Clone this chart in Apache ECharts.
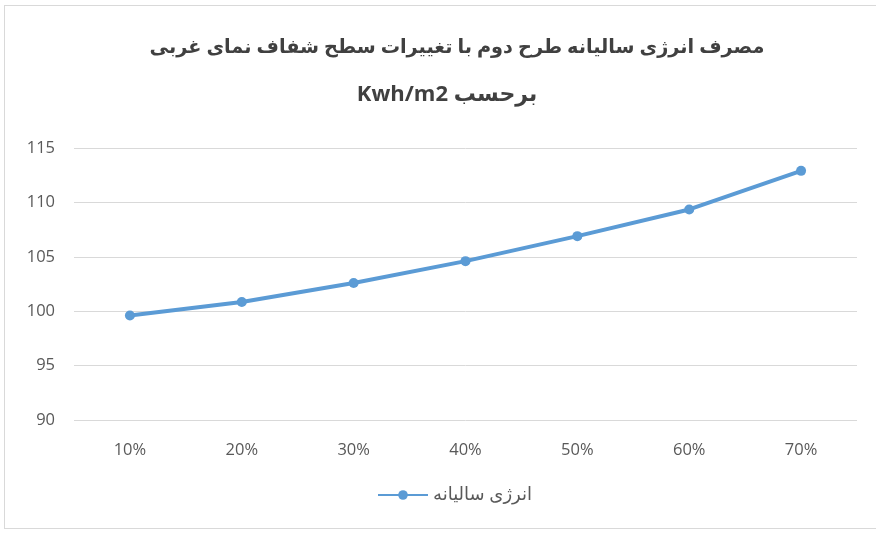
<!DOCTYPE html>
<html>
<head>
<meta charset="utf-8">
<script src="https://cdn.jsdelivr.net/npm/echarts@6/dist/echarts.min.js"></script>
<style>
html,body{margin:0;padding:0;background:#fff;overflow:hidden;}
#frame{position:absolute;left:4px;top:5px;width:880px;height:524px;border:1px solid #d9d9d9;box-sizing:border-box;}
#chart{position:absolute;left:0;top:0;width:876px;height:533px;}
</style>
</head>
<body>
<div id="frame"></div>
<div id="chart"></div>
<script>
const titleLine1 = 'مصرف انرژی سالیانه طرح دوم با تغییرات سطح شفاف نمای غربی';
const titleLine2 = '\u202Bبرحسب Kwh/m2\u202C';
const seriesName = 'انرژی سالیانه';
const categories = ['10%', '20%', '30%', '40%', '50%', '60%', '70%'];
const energyValues = [99.6, 100.85, 102.6, 104.6, 106.9, 109.35, 112.9];
const yTicks = [90, 95, 100, 105, 110, 115];

const chart = echarts.init(document.getElementById('chart'), null, {renderer: 'canvas'});
const fontFam = "'Open Sans', 'DejaVu Sans', sans-serif";
chart.setOption({
  backgroundColor: 'transparent',
  animation: false,
  title: [
    {text: titleLine1, left: 452, top: 33, textAlign: 'center',
     textStyle: {fontSize: 19.3, fontWeight: 'bold', color: '#404040', fontFamily: fontFam}},
    {text: titleLine2, left: 442, top: 79, textAlign: 'center',
     textStyle: {fontSize: 22, fontWeight: 'bold', color: '#404040', fontFamily: fontFam}}
  ],
  legend: {
    data: [seriesName],
    left: 372, top: 481,
    itemWidth: 50, itemHeight: 12, itemGap: 6,
    textStyle: {fontSize: 18, color: '#595959', fontFamily: fontFam}
  },
  grid: {left: 74, right: 19, top: 148, bottom: 113, containLabel: false},
  xAxis: {
    type: 'category',
    data: categories,
    boundaryGap: true,
    axisLine: {show: false},
    axisTick: {show: false},
    axisLabel: {fontSize: 16.5, color: '#595959', margin: 22, fontFamily: fontFam}
  },
  yAxis: {
    type: 'value',
    min: yTicks[0], max: yTicks[yTicks.length - 1], interval: 5,
    axisLine: {show: false},
    axisTick: {show: false},
    axisLabel: {fontSize: 16.5, color: '#595959', margin: 19, fontFamily: fontFam},
    splitLine: {lineStyle: {color: '#d9d9d9', width: 1}}
  },
  series: [{
    name: seriesName,
    type: 'line',
    data: energyValues,
    symbol: 'circle',
    symbolSize: 10,
    lineStyle: {color: '#5b9bd5', width: 4},
    itemStyle: {color: '#5b9bd5'}
  }]
});
</script>
</body>
</html>
